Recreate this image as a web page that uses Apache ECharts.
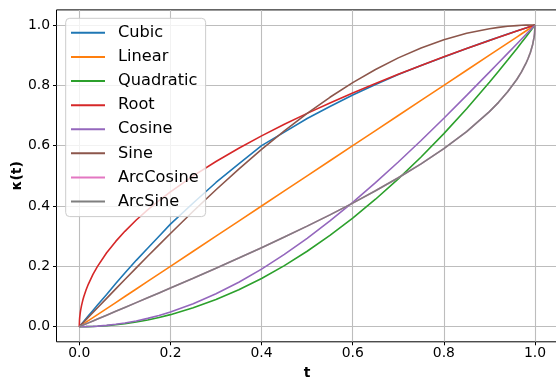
<!DOCTYPE html>
<html>
<head>
<meta charset="utf-8">
<script src="https://cdn.jsdelivr.net/npm/echarts@6/dist/echarts.min.js"></script>
<style>
  html, body { margin: 0; padding: 0; background: #ffffff; }
  #chart { width: 556px; height: 379px; }
</style>
</head>
<body>
<div id="chart"></div>
<script>
// Sample positions along t (denser near the ends, where Root and ArcSine are steep)
const tValues = [0, 0.0005, 0.001, 0.002, 0.003, 0.005, 0.0075, 0.01, 0.015, 0.02, 0.03, 0.04, 0.06, 0.08,
  0.1, 0.125, 0.15, 0.175, 0.2, 0.25, 0.3, 0.35, 0.4, 0.45, 0.5, 0.55, 0.6, 0.65, 0.7, 0.75, 0.8, 0.85,
  0.9, 0.92, 0.94, 0.96, 0.97, 0.98, 0.985, 0.99, 0.995, 0.998, 0.999, 1];

const cubic = [0, 0.0009, 0.0018, 0.0036, 0.0054, 0.009, 0.0135, 0.018, 0.027, 0.036, 0.054, 0.072, 0.107, 0.143,
  0.178, 0.22, 0.26, 0.3, 0.34, 0.41, 0.478, 0.54, 0.6, 0.645, 0.69, 0.73, 0.768, 0.803, 0.836, 0.866, 0.894, 0.922,
  0.949, 0.959, 0.97, 0.98, 0.985, 0.99, 0.9925, 0.995, 0.9975, 0.999, 0.9995, 1];
const linear = [0, 0.0005, 0.001, 0.002, 0.003, 0.005, 0.0075, 0.01, 0.015, 0.02, 0.03, 0.04, 0.06, 0.08,
  0.1, 0.125, 0.15, 0.175, 0.2, 0.25, 0.3, 0.35, 0.4, 0.45, 0.5, 0.55, 0.6, 0.65, 0.7, 0.75, 0.8, 0.85,
  0.9, 0.92, 0.94, 0.96, 0.97, 0.98, 0.985, 0.99, 0.995, 0.998, 0.999, 1];
const quadratic = [0, 0, 0, 0, 0, 0, 0.0001, 0.0001, 0.0002, 0.0004, 0.0009, 0.0016, 0.0036, 0.0064,
  0.01, 0.0156, 0.0225, 0.0306, 0.04, 0.0625, 0.09, 0.1225, 0.16, 0.2025, 0.25, 0.3025, 0.36, 0.4225, 0.49, 0.5625, 0.64, 0.7225,
  0.81, 0.8464, 0.8836, 0.9216, 0.9409, 0.9604, 0.9702, 0.9801, 0.99, 0.996, 0.998, 1];
const root = [0, 0.0224, 0.0316, 0.0447, 0.0548, 0.0707, 0.0866, 0.1, 0.1225, 0.1414, 0.1732, 0.2, 0.2449, 0.2828,
  0.3162, 0.3536, 0.3873, 0.4183, 0.4472, 0.5, 0.5477, 0.5916, 0.6325, 0.6708, 0.7071, 0.7416, 0.7746, 0.8062, 0.8367, 0.866, 0.8944, 0.922,
  0.9487, 0.9592, 0.9695, 0.9798, 0.9849, 0.9899, 0.9925, 0.995, 0.9975, 0.999, 0.9995, 1];
const cosine = [0, 0, 0, 0, 0, 0, 0.0001, 0.0001, 0.0003, 0.0005, 0.0011, 0.002, 0.0044, 0.0079,
  0.0123, 0.0192, 0.0276, 0.0375, 0.0489, 0.0761, 0.109, 0.1474, 0.191, 0.2396, 0.2929, 0.3505, 0.4122, 0.4775, 0.546, 0.6173, 0.691, 0.7666,
  0.8436, 0.8747, 0.9059, 0.9372, 0.9529, 0.9686, 0.9764, 0.9843, 0.9921, 0.9969, 0.9984, 1];
const sine = [0, 0.0008, 0.0016, 0.0031, 0.0047, 0.0079, 0.0118, 0.0157, 0.0236, 0.0314, 0.0471, 0.0628, 0.0941, 0.1253,
  0.1564, 0.1951, 0.2334, 0.2714, 0.309, 0.3827, 0.454, 0.5225, 0.5878, 0.6494, 0.7071, 0.7604, 0.809, 0.8526, 0.891, 0.9239, 0.9511, 0.9724,
  0.9877, 0.9921, 0.9956, 0.998, 0.9989, 0.9995, 0.9997, 0.9999, 1, 1, 1, 1];
const arcCosine = [0, 0.0003, 0.0006, 0.0013, 0.0019, 0.0032, 0.0048, 0.0064, 0.0095, 0.0127, 0.0191, 0.0255, 0.0382, 0.051,
  0.0638, 0.0798, 0.0959, 0.112, 0.1282, 0.1609, 0.194, 0.2276, 0.262, 0.2972, 0.3333, 0.3707, 0.4097, 0.4505, 0.4936, 0.5399, 0.5903, 0.6468,
  0.7129, 0.7436, 0.7784, 0.8193, 0.8436, 0.8725, 0.8896, 0.9099, 0.9363, 0.9597, 0.9715, 1];
const arcSine = [0, 0.0003, 0.0006, 0.0013, 0.0019, 0.0032, 0.0048, 0.0064, 0.0095, 0.0127, 0.0191, 0.0255, 0.0382, 0.051,
  0.0638, 0.0798, 0.0959, 0.112, 0.1282, 0.1609, 0.194, 0.2276, 0.262, 0.2972, 0.3333, 0.3707, 0.4097, 0.4505, 0.4936, 0.5399, 0.5903, 0.6468,
  0.7129, 0.7436, 0.7784, 0.8193, 0.8436, 0.8725, 0.8896, 0.9099, 0.9363, 0.9597, 0.9715, 1];

const seriesNames = ['Cubic', 'Linear', 'Quadratic', 'Root', 'Cosine', 'Sine', 'ArcCosine', 'ArcSine'];
const seriesValues = [cubic, linear, quadratic, root, cosine, sine, arcCosine, arcSine];
const seriesColors = ['#1f77b4', '#ff7f0e', '#2ca02c', '#d62728', '#9467bd', '#8c564b', '#e377c2', '#7f7f7f'];

const tickValues = [0, 0.2, 0.4, 0.6, 0.8, 1.0];
const axisMin = -0.05;
const axisMax = 1.05;

const FONT = "'DejaVu Sans', sans-serif";

function valueAxis(name, isX) {
  return {
    type: 'value',
    position: isX ? 'bottom' : 'left',
    min: axisMin,
    max: axisMax,
    name: name,
    nameLocation: 'middle',
    nameGap: isX ? 25 : 32,
    nameMoveOverlap: false,
    nameTextStyle: { fontFamily: FONT, fontSize: 13.9, fontWeight: 'bold', color: '#000' },
    axisLine: { show: false, onZero: false },
    axisTick: {
      show: true, inside: false, length: 3.5,
      lineStyle: { color: '#000', width: 1 },
      customValues: tickValues
    },
    axisLabel: {
      show: true,
      margin: isX ? 5 : 6.5,
      fontFamily: FONT, fontSize: 13.9, color: '#000',
      customValues: tickValues,
      formatter: v => v.toFixed(1)
    },
    splitLine: { show: true, lineStyle: { color: '#bdbdbd', width: 1.1 } }
  };
}

const chart = echarts.init(document.getElementById('chart'), null, { renderer: 'canvas' });

chart.setOption({
  animation: false,
  backgroundColor: '#ffffff',
  grid: {
    left: 56.5, top: 9.9, width: 501.3, height: 331.9,
    containLabel: false,
    outerBoundsMode: 'none',
    show: true, borderColor: '#000', borderWidth: 1, backgroundColor: 'transparent'
  },
  xAxis: valueAxis('t', true),
  yAxis: valueAxis('κ(t)', false),
  legend: {
    orient: 'vertical',
    left: 65.7, top: 18.3,
    padding: [2.5, 7, 3, 5.3],
    itemGap: 0,
    itemWidth: 34,
    itemHeight: 2,
    icon: 'rect',
    backgroundColor: 'rgba(255,255,255,0.8)',
    borderColor: '#cccccc',
    borderWidth: 1,
    borderRadius: 4,
    textStyle: {
      fontFamily: FONT, fontSize: 16.2, color: '#000',
      lineHeight: 24.1, padding: [0, 0, 0, 8]
    },
    data: seriesNames
  },
  series: seriesNames.map((name, i) => ({
    name: name,
    type: 'line',
    showSymbol: false,
    symbol: 'none',
    color: seriesColors[i],
    lineStyle: { width: 1.6, color: seriesColors[i] },
    data: tValues.map((t, j) => [t, seriesValues[i][j]])
  }))
});
</script>
</body>
</html>
